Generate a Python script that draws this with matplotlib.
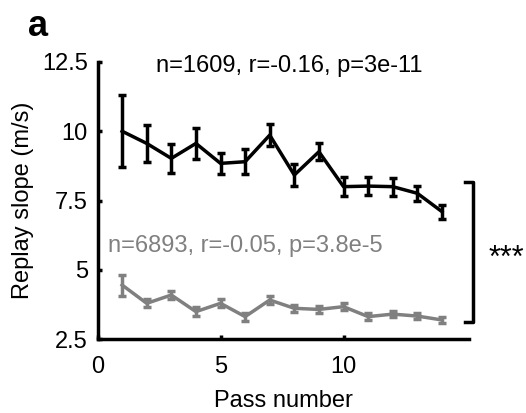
import numpy as np
import matplotlib
matplotlib.use("Agg")
import matplotlib.pyplot as plt

plt.rcParams['font.family'] = ['Liberation Sans', 'DejaVu Sans']

# pass numbers
passes = np.arange(1, 15)

# high-speed group (black)
black_mean = [10.0, 9.56, 9.02, 9.56, 8.84, 8.9, 9.86, 8.42, 9.26, 8.0, 8.02, 8.0, 7.76, 7.1]
black_err = [1.3, 0.66, 0.53, 0.57, 0.38, 0.45, 0.39, 0.38, 0.31, 0.34, 0.33, 0.33, 0.26, 0.25]

# low-speed group (gray)
gray_mean = [4.45, 3.79, 4.09, 3.49, 3.79, 3.31, 3.91, 3.61, 3.57, 3.67, 3.31, 3.40, 3.33, 3.19]
gray_err = [0.38, 0.15, 0.15, 0.15, 0.14, 0.14, 0.14, 0.13, 0.13, 0.13, 0.12, 0.12, 0.12, 0.12]

black_label = "n=1609, r=-0.16, p=3e-11"
gray_label = "n=6893, r=-0.05, p=3.8e-5"

fs = 17
fig = plt.figure(figsize=(5.26, 4.13), dpi=100)
ax = fig.add_axes([0.1854, 0.179, 0.7062, 0.671])

gray = "#808080"
ax.errorbar(passes, black_mean, yerr=black_err, color="black", lw=2.5,
            elinewidth=2.5, capsize=3, capthick=2.5)
ax.errorbar(passes, gray_mean, yerr=gray_err, color=gray, lw=2.5,
            elinewidth=2.5, capsize=3, capthick=2.5)

ax.set_xlim(0, 15.1)
ax.set_ylim(2.5, 12.5)
ax.set_xticks([0, 5, 10])
ax.set_yticks([2.5, 5, 7.5, 10, 12.5])
ax.set_yticklabels(["2.5", "5", "7.5", "10", "12.5"])
ax.tick_params(direction="in", length=3, width=2.5, labelsize=fs)
ax.tick_params(axis="y", pad=7)
ax.tick_params(axis="x", pad=12)
for s in ["top", "right"]:
    ax.spines[s].set_visible(False)
for s in ["left", "bottom"]:
    ax.spines[s].set_linewidth(2.5)

ax.set_xlabel("Pass number", fontsize=fs, labelpad=9)
ax.set_ylabel("Replay slope (m/s)", fontsize=fs, labelpad=6)

ax.text(7.8, 12.15, black_label, fontsize=fs, ha="center", va="baseline")
ax.text(0.43, 5.64, gray_label, fontsize=fs, color=gray, ha="left", va="baseline")

# significance bracket
bx, btick = 15.26, 14.94
ax.plot([btick, bx, bx, btick], [8.17, 8.17, 3.11, 3.11], color="black",
        lw=2.5, clip_on=False)
ax.text(16.6, 5.1, "***", fontsize=22, ha="center", va="baseline")

fig.text(0.0715, 0.937, "a", fontsize=26, fontweight="bold", ha="center", va="center")

fig.savefig("out.png", dpi=100)
